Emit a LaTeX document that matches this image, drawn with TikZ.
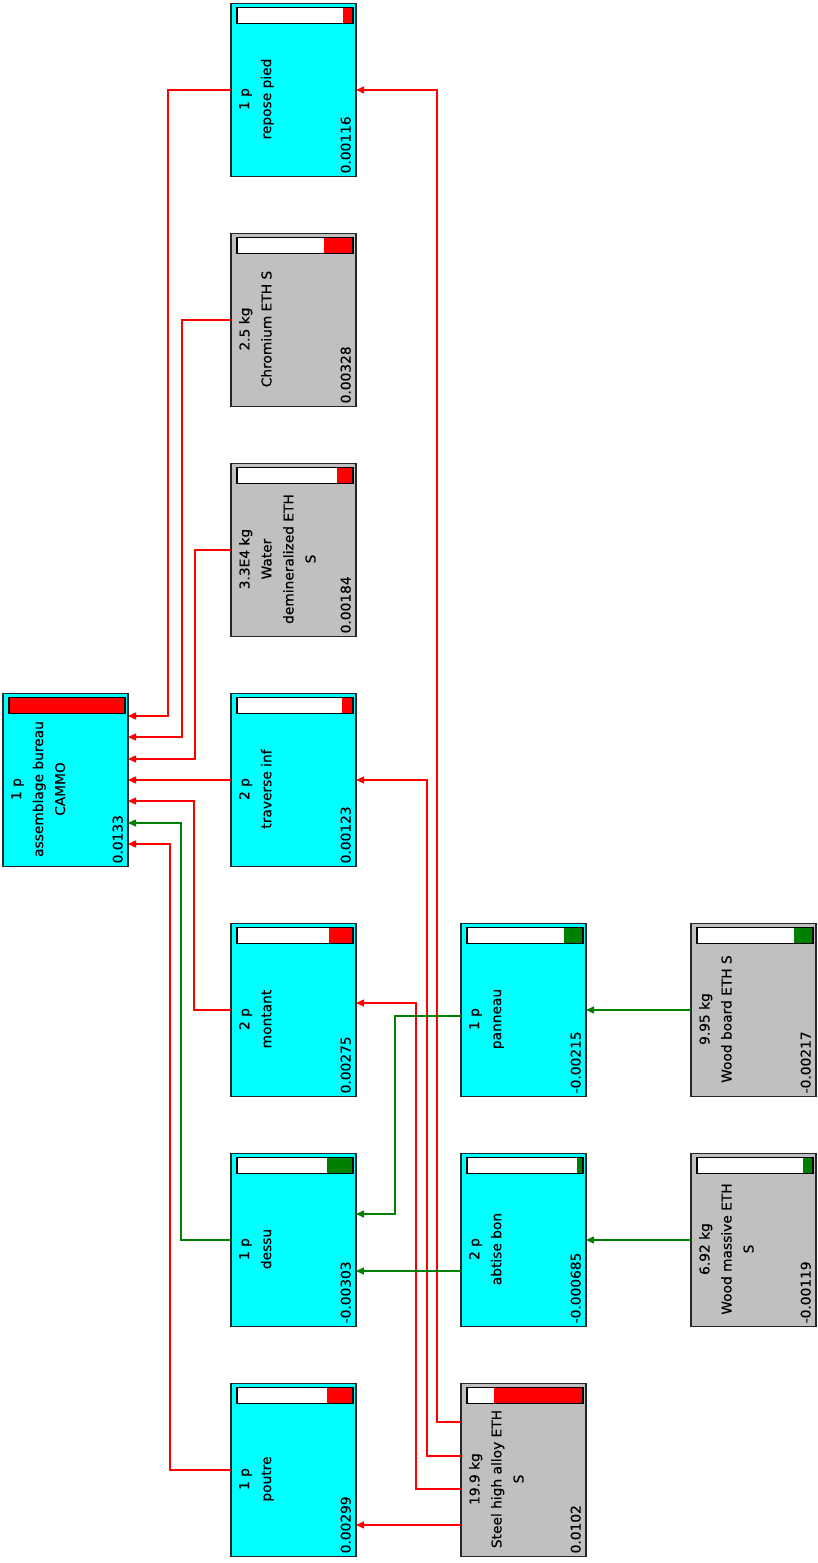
\documentclass[tikz,border=0pt]{standalone}
\usepackage{fontspec}
\usepackage{xcolor}
\usepackage{tikz}
\usetikzlibrary{arrows.meta,calc,positioning}
\newfontfamily\treefont[FakeStretch=1.02,FakeBold=0.5]{DejaVu Sans}
\definecolor{proc}{RGB}{0,255,255}
\definecolor{mat}{RGB}{192,192,192}
\definecolor{hot}{RGB}{255,0,0}
\definecolor{cool}{RGB}{0,128,0}
% one box of the tree: name, x, y, fill, share of the bar, bar colour, text, value
\newcommand{\treebox}[8]{%
  \node[pbox,fill=#4] (#1) at (#2,#3) {};
  \fill[white] ([xshift=6pt,yshift=-4pt]#1.north west) rectangle ([xshift=-3pt,yshift=-20pt]#1.north east);
  \fill[#6] ([xshift={-3pt-116pt*#5},yshift=-4pt]#1.north east) rectangle ([xshift=-3pt,yshift=-20pt]#1.north east);
  \draw[barline] ([xshift=6pt,yshift=-4pt]#1.north west) rectangle ([xshift=-3pt,yshift=-20pt]#1.north east);
  \node[ptext,anchor=north] (#1-t) at ([xshift=8pt,yshift=-9pt]#1.west) {#7};
  \node[ptext,anchor=south west,align=left] (#1-v) at ([xshift=-5pt,yshift=3pt]#1.south east) {#8};
}

\begin{document}
\begin{tikzpicture}[x=1pt,y=-1pt,>={Triangle[length=8pt,width=7pt]},
  pbox/.style={draw=black!85,line width=1.6pt,minimum width=125pt,minimum height=173pt,inner sep=0pt,outer sep=0pt},
  barline/.style={draw=black,line width=1.2pt},
  ptext/.style={font=\treefont\fontsize{13.5}{22}\selectfont,rotate=90,inner sep=0pt,align=center},
  rl/.style={->,draw=hot,line width=1.3pt},
  gl/.style={->,draw=cool,line width=1.3pt}]
\useasboundingbox[fill=white] (0,0) rectangle (817,1563);

% ---------- root ----------
\treebox{root}{65.5}{780}{proc}{1.0}{hot}{1 p\\assemblage bureau\\CAMMO}{0.0133}

% ---------- second column ----------
\treebox{repose}{293.5}{90}{proc}{0.087}{hot}{1 p\\repose pied}{0.00116}
\treebox{chrom}{293.5}{320}{mat}{0.247}{hot}{2.5 kg\\Chromium ETH S}{0.00328}
\treebox{water}{293.5}{550}{mat}{0.138}{hot}{3.3E4 kg\\Water\\demineralized ETH\\S}{0.00184}
\treebox{trav}{293.5}{780}{proc}{0.092}{hot}{2 p\\traverse inf}{0.00123}
\treebox{montant}{293.5}{1010}{proc}{0.207}{hot}{2 p\\montant}{0.00275}
\treebox{dessu}{293.5}{1240}{proc}{0.228}{cool}{1 p\\dessu}{-0.00303}
\treebox{poutre}{293.5}{1470}{proc}{0.225}{hot}{1 p\\poutre}{0.00299}

% ---------- third column ----------
\treebox{panneau}{523.5}{1010}{proc}{0.162}{cool}{1 p\\panneau}{-0.00215}
\treebox{abtise}{523.5}{1240}{proc}{0.052}{cool}{2 p\\abtise bon}{-0.000685}
\treebox{steel}{523.5}{1470}{mat}{0.767}{hot}{19.9 kg\\Steel high alloy ETH\\S}{0.0102}

% ---------- fourth column ----------
\treebox{wboard}{753.5}{1010}{mat}{0.163}{cool}{9.95 kg\\Wood board ETH S}{-0.00217}
\treebox{wmass}{753.5}{1240}{mat}{0.089}{cool}{6.92 kg\\Wood massive ETH\\S}{-0.00119}

% ---------- into the root ----------
\draw[rl] (repose.west) -- ++(-63,0) |- ([yshift=64pt]root.east);
\draw[rl] (chrom.west) -- ++(-49,0) |- ([yshift=43pt]root.east);
\draw[rl] (water.west) -- ++(-36,0) |- ([yshift=21pt]root.east);
\draw[rl] (trav.west) -- (root.east);
\draw[rl] (montant.west) -- ++(-37,0) |- ([yshift=-21pt]root.east);
\draw[gl] (dessu.west) -- ++(-50,0) |- ([yshift=-43pt]root.east);
\draw[rl] (poutre.west) -- ++(-61,0) |- ([yshift=-64pt]root.east);

% ---------- steel ----------
\draw[rl] ([yshift=48pt]steel.west) -- ++(-24,0) |- (repose.east);
\draw[rl] ([yshift=14pt]steel.west) -- ++(-34,0) |- (trav.east);
\draw[rl] ([yshift=-19pt]steel.west) -- ++(-45,0) |- ([yshift=7pt]montant.east);
\draw[rl] ([yshift=-55pt]steel.west) -- ([yshift=-55pt]poutre.east);

% ---------- wood ----------
\draw[gl] ([yshift=-6pt]panneau.west) -- ++(-66,0) |- ([yshift=26pt]dessu.east);
\draw[gl] ([yshift=-31pt]abtise.west) -- ([yshift=-31pt]dessu.east);
\draw[gl] (wboard.west) -- (panneau.east);
\draw[gl] (wmass.west) -- (abtise.east);
\end{tikzpicture}
\end{document}
